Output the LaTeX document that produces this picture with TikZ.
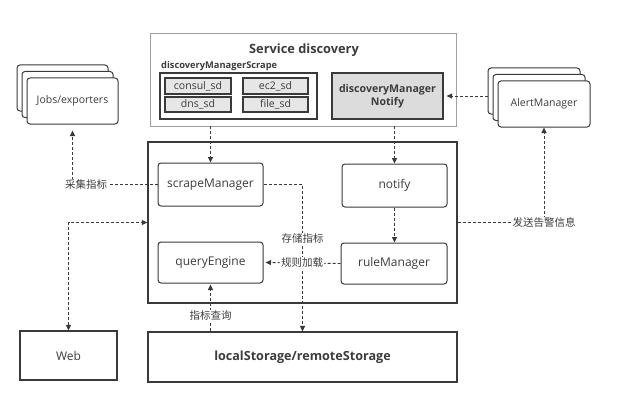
\documentclass[tikz,border=0pt]{standalone}
\usepackage{fontspec}
\setmainfont{Open Sans}
\newfontfamily\cjk{Noto Sans CJK SC}
\usepackage{xcolor}
\usetikzlibrary{positioning,arrows.meta,calc,shadows}
\definecolor{linec}{HTML}{3A3A3A}
\definecolor{textc}{HTML}{3C3C3C}
\definecolor{sdline}{HTML}{A0A0A0}
\definecolor{notifyfill}{HTML}{DCDCDC}
\definecolor{sdfill}{HTML}{E6E6E6}
\tikzset{
  rbox/.style={draw=linec, line width=1pt, rounded corners=3pt, fill=white, text=textc, align=center, font=\fontsize{12}{14}\selectfont},
  sbox/.style={draw=linec, line width=1.1pt, fill=white, text=textc, align=center},
  sdbox/.style={draw=linec, line width=1.3pt, fill=sdfill, text=textc, font=\fontsize{10.5}{12}\selectfont, inner sep=0pt},
  stack/.style={rbox, font=\fontsize{10.5}{12}\selectfont, double copy shadow={shadow xshift=-5pt, shadow yshift=6.5pt}},
  flow/.style={draw=linec, line width=0.9pt, dash pattern=on 3pt off 2pt, -{Triangle[length=5.5pt,width=5pt]}},
  lbl/.style={fill=white, text=textc, inner sep=1pt, font=\cjk\fontsize{10.5}{12}\selectfont}
}
\begin{document}
\begin{tikzpicture}[x=1pt,y=-1pt]
\useasboundingbox (0,0) rectangle (617,401);
\fill[white] (0,0) rectangle (617,401);

\node[draw=sdline, line width=0.8pt, minimum width=306pt, minimum height=93pt] (sd) at (303,79.5) {};
\node[text=textc, font=\bfseries\fontsize{12.8}{14}\selectfont] (sdtitle) at (304,50) {Service discovery};
\node[anchor=west, inner sep=0pt, text=textc, font=\bfseries\fontsize{9.3}{11}\selectfont] (scrapetitle) at (161,66) {discoveryManagerScrape};
\node[draw=linec, line width=1.2pt, fill=white, minimum width=157pt, minimum height=46pt] (sdscrape) at (238.5,96) {};
\node[sdbox, minimum width=66pt, minimum height=16pt] (consul) at (198,86) {consul\_sd};
\node[sdbox, minimum width=65pt, minimum height=16pt] (ec2) at (275.5,86) {ec2\_sd};
\node[sdbox, minimum width=66pt, minimum height=15pt] (dns) at (198,104.5) {dns\_sd};
\node[sdbox, minimum width=65pt, minimum height=15pt] (file) at (275.5,104.5) {file\_sd};
\node[draw=linec, line width=1.2pt, fill=notifyfill, text=textc, align=center, font=\bfseries\fontsize{10.6}{13.5}\selectfont, minimum width=111pt, minimum height=46pt] (dmnotify) at (387.5,96) {discoveryManager\\Notify};

\node[stack, minimum width=91pt, minimum height=46pt] (jobs) at (72.5,101) {Jobs/exporters};
\node[stack, minimum width=92pt, minimum height=46pt] (alert) at (544,104) {AlertManager};

\node[draw=linec, line width=1.3pt, minimum width=309pt, minimum height=161pt] (main) at (302.5,222.5) {};
\node[rbox, minimum width=105pt, minimum height=43pt] (scrape) at (210.5,184.5) {scrapeManager};
\node[rbox, minimum width=105pt, minimum height=43pt] (notify) at (394.5,185.5) {notify};
\node[rbox, minimum width=105pt, minimum height=41pt] (query) at (210.5,262.5) {queryEngine};
\node[rbox, minimum width=106pt, minimum height=41pt] (rule) at (394,263.5) {ruleManager};

\node[sbox, font=\fontsize{12}{14}\selectfont, minimum width=97pt, minimum height=49pt] (web) at (68.5,355.5) {Web};
\node[sbox, font=\bfseries\fontsize{12.6}{14}\selectfont, minimum width=309pt, minimum height=50pt] (storage) at (302.5,357) {localStorage/remoteStorage};

\draw[flow] (sd.south -| scrape.north) -- (scrape.north);
\draw[flow] (sd.south -| notify.north) -- (notify.north);
\draw[flow, shorten >=3pt] ($(dmnotify.east -| alert.west)+(-10,0)$) -- (dmnotify.east);
\draw[flow, shorten >=6pt] (scrape.west) -- node[lbl, pos=0.84] {采集指标} (jobs.south |- scrape.west) -- (jobs.south);
\draw[flow] (scrape.east) -- (scrape.east -| storage.north) -- node[lbl, pos=0.37] {存储指标} (storage.north);
\draw[flow] (notify.south) -- (notify.south |- rule.north);
\draw[flow, shorten >=2pt] (rule.west) -- node[lbl] {规则加载} (query.east);
\draw[flow, shorten >=1pt] (storage.north -| query.south) -- node[lbl, pos=0.33] {指标查询} (query.south);
\draw[flow, {Triangle[length=5.5pt,width=5pt]}-{Triangle[length=5.5pt,width=5pt]}] (web.north) |- (main.west);
\draw[flow] (main.east) -| node[lbl, pos=0.5] {发送告警信息} (alert.south);
\end{tikzpicture}
\end{document}
